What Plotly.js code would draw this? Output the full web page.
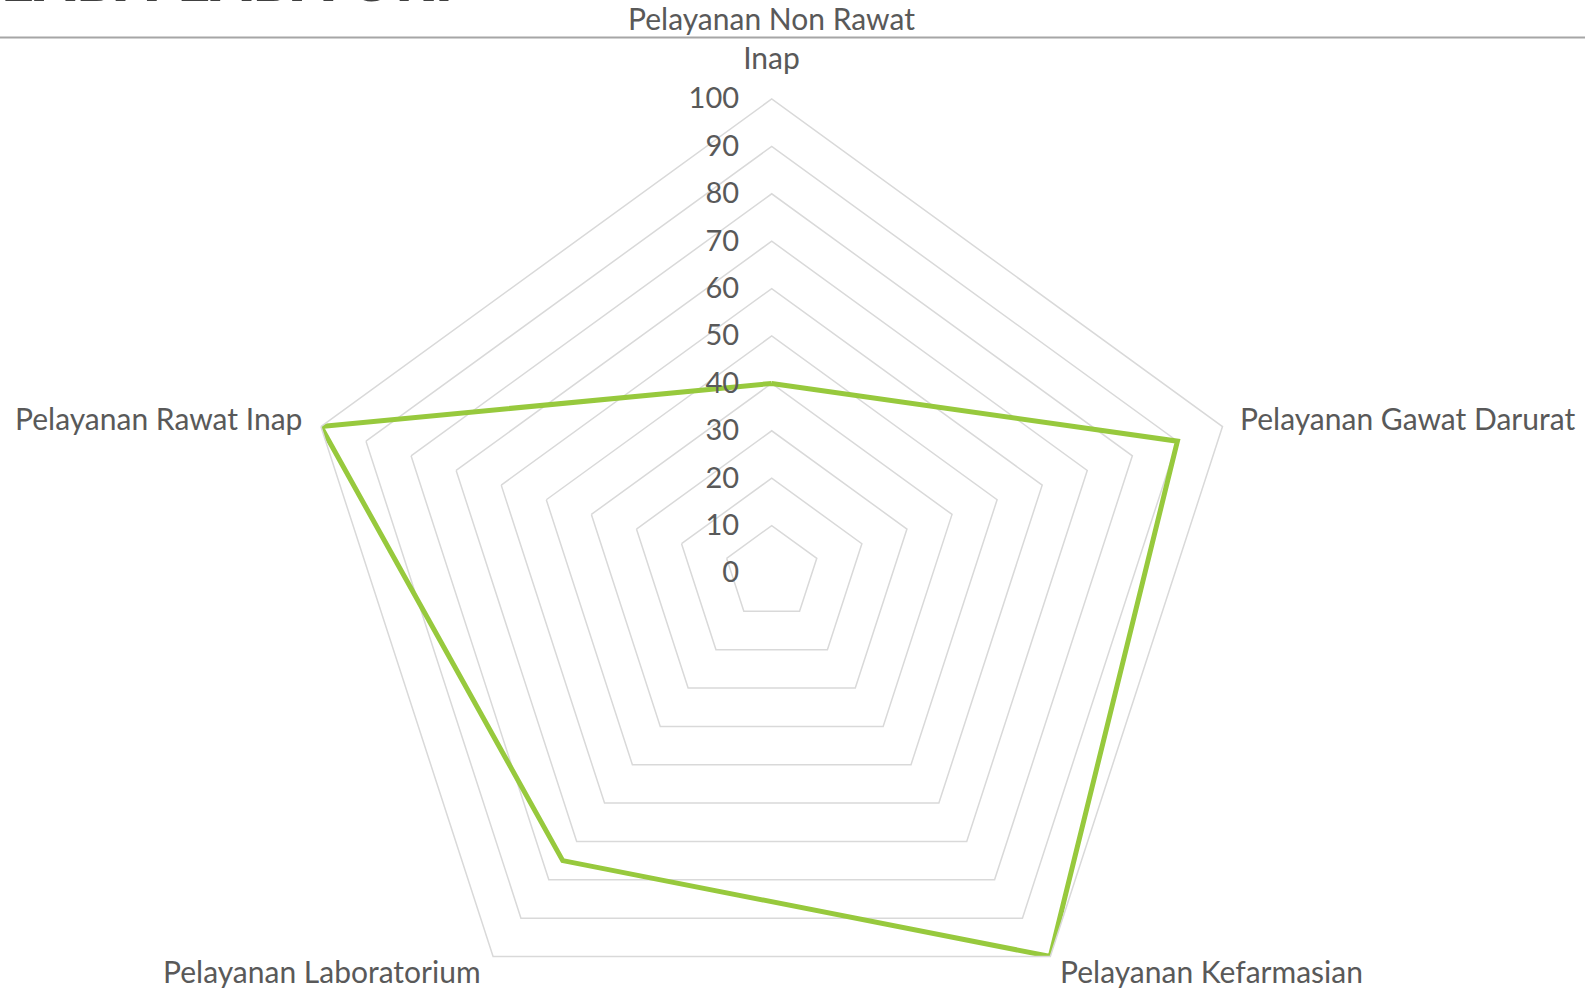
<!DOCTYPE html>
<html>
<head>
<meta charset="utf-8">
<script src="https://cdn.plot.ly/plotly-3.0.1.min.js"></script>
<style>
html,body{margin:0;padding:0;overflow:hidden;background:#fff;}
#chart{width:1585px;height:1100px;}
</style>
</head>
<body>
<div id="chart"></div>
<script>
const categories = [
  "Pelayanan Non Rawat<br>Inap",
  "Pelayanan Gawat Darurat",
  "Pelayanan Kefarmasian",
  "Pelayanan Laboratorium",
  "Pelayanan Rawat Inap"
];
const values = [40, 90, 100, 75, 100];
const radialTicks = [0, 10, 20, 30, 40, 50, 60, 70, 80, 90, 100];
const headerText = "LABA-LABA UKP";

const W = 1585, H = 1100;
const cx = 771.7, cy = 573, R = 474;
const LABEL_FONT = 'Lato, "Open Sans", sans-serif';
const TEXT_COLOR = '#595959';

// category label placement (pixel anchor, relative to the polar geometry)
const labelPlacement = [
  {dx: 0,         dy: 37 - cy,    xanchor: 'center'},
  {dx: 1238 - cx, dy: 418.4 - cy, xanchor: 'left'},
  {dx: 1058 - cx, dy: 971.4 - cy, xanchor: 'left'},
  {dx: 483 - cx,  dy: 971.4 - cy, xanchor: 'right'},
  {dx: 304 - cx,  dy: 418.4 - cy, xanchor: 'right'}
];

const trace = {
  type: 'scatterpolar',
  r: values.concat([values[0]]),
  theta: categories.concat([categories[0]]),
  mode: 'lines',
  line: {color: '#97C93D', width: 5},
  hoverinfo: 'skip',
  showlegend: false
};

const catAnnotations = categories.map((c, i) => ({
  text: c,
  xref: 'paper', yref: 'paper',
  x: (cx + labelPlacement[i].dx) / W,
  y: (H - (cy + labelPlacement[i].dy)) / H,
  xanchor: labelPlacement[i].xanchor,
  yanchor: 'middle',
  align: 'center',
  showarrow: false,
  font: {family: LABEL_FONT, size: 30, color: TEXT_COLOR}
}));

const layout = {
  width: W, height: H,
  margin: {l: 0, r: 0, t: 0, b: 0},
  paper_bgcolor: '#ffffff',
  showlegend: false,
  font: {family: LABEL_FONT, color: TEXT_COLOR, size: 30},
  polar: {
    domain: {x: [(cx - R) / W, (cx + R) / W], y: [(H - (cy + R)) / H, (H - (cy - R)) / H]},
    gridshape: 'linear',
    bgcolor: 'rgba(0,0,0,0)',
    angularaxis: {
      type: 'category',
      categoryarray: categories,
      rotation: 90,
      direction: 'clockwise',
      showgrid: false,
      showline: true,
      linecolor: '#d9d9d9',
      linewidth: 1.5,
      ticks: '',
      showticklabels: false
    },
    radialaxis: {
      range: [0, 100],
      tickvals: radialTicks,
      ticktext: radialTicks.map(String),
      angle: 90,
      tickangle: 90,
      side: 'counterclockwise',
      showline: false,
      ticks: 'outside',
      ticklen: 22,
      tickcolor: 'rgba(0,0,0,0)',
      gridcolor: '#d9d9d9',
      gridwidth: 1.5,
      tickfont: {family: LABEL_FONT, size: 29, color: TEXT_COLOR}
    }
  },
  shapes: [{
    type: 'line', xref: 'paper', yref: 'paper',
    x0: 0, x1: 1, y0: (H - 37.5) / H, y1: (H - 37.5) / H,
    line: {color: '#a6a6a6', width: 2}
  }],
  annotations: catAnnotations.concat([{
    text: '<b>' + headerText + '</b>',
    xref: 'paper', yref: 'paper',
    x: 474 / W, y: (H - 21) / H,
    xanchor: 'right', yanchor: 'bottom',
    showarrow: false,
    font: {family: '"Open Sans", "DejaVu Sans", sans-serif', size: 60, color: '#404040'}
  }])
};

Plotly.newPlot('chart', [trace], layout, {displayModeBar: false, staticPlot: true});
</script>
</body>
</html>
